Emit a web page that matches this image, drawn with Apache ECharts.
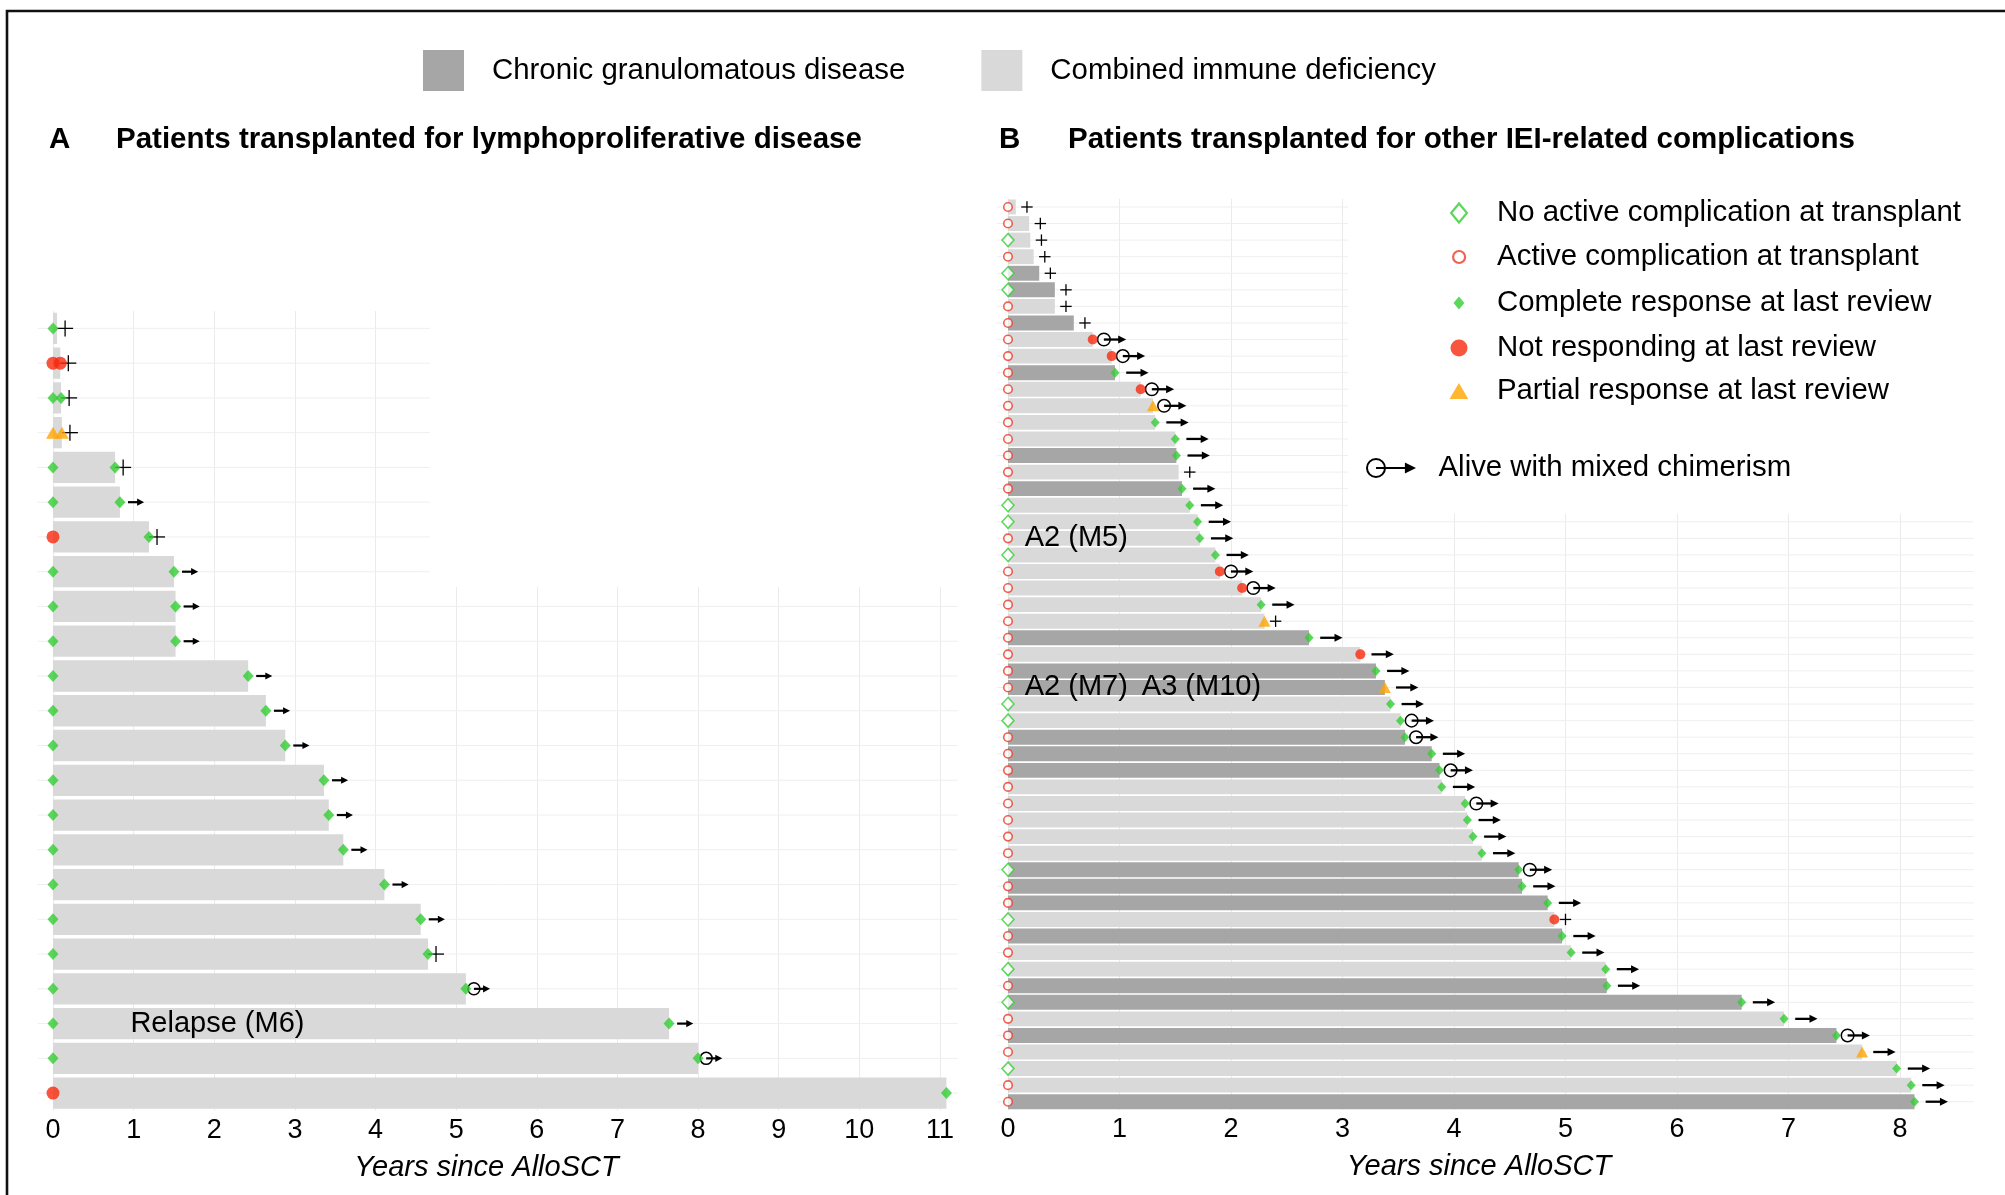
<!DOCTYPE html>
<html>
<head>
<meta charset="utf-8">
<script src="https://cdn.jsdelivr.net/npm/echarts@6/dist/echarts.min.js"></script>
<style>
  html, body { margin: 0; padding: 0; background: #fff; }
  #chart { width: 2005px; height: 1195px; }
</style>
</head>
<body>
<div id="chart"></div>
<script>
const FONT = 'Liberation Sans';
const GREEN = '#32cd32', RED = '#f8290d', RED_OPEN = '#ee3a26', ORANGE = '#ffa500';
const DARK = '#a6a6a6', LIGHT = '#d9d9d9';

// ---- panel A: lymphoproliferative disease (top row first) ----
const aLen = [0.05, 0.09, 0.10, 0.11, 0.77, 0.83, 1.19, 1.50, 1.52, 1.52, 2.42, 2.64,
  2.88, 3.36, 3.42, 3.60, 4.11, 4.56, 4.65, 5.12, 7.64, 8.00, 11.08];
const aStart = ['CR', 'NR', 'CR', 'PR', 'CR', 'CR', 'NR', 'CR', 'CR', 'CR', 'CR', 'CR',
  'CR', 'CR', 'CR', 'CR', 'CR', 'CR', 'CR', 'CR', 'CR', 'CR', 'NR'];
const aEnd = [null, 'NR', 'CR', 'PR', 'CR', 'CR', 'CR', 'CR', 'CR', 'CR', 'CR', 'CR',
  'CR', 'CR', 'CR', 'CR', 'CR', 'CR', 'CR', 'CR', 'CR', 'CR', 'CR'];
const aStatus = ['dead', 'dead', 'dead', 'dead', 'dead', 'alive', 'dead', 'alive', 'alive', 'alive', 'alive', 'alive',
  'alive', 'alive', 'alive', 'alive', 'alive', 'alive', 'dead', 'chim', 'alive', 'chim', null];
const aNoteText = ['Relapse (M6)'];
const aNoteX = [0.96];
const aNoteRow = [20];

// ---- panel B: other IEI-related complications ----
const bLen = [0.07, 0.19, 0.20, 0.23, 0.28, 0.42, 0.42, 0.59, 0.76, 0.93,
  0.96, 1.19, 1.30, 1.32, 1.50, 1.51, 1.53, 1.56, 1.63, 1.70,
  1.72, 1.86, 1.90, 2.10, 2.27, 2.30, 2.70, 3.16, 3.30, 3.38,
  3.43, 3.52, 3.56, 3.80, 3.87, 3.89, 4.10, 4.12, 4.17, 4.25,
  4.58, 4.61, 4.84, 4.90, 4.97, 5.05, 5.36, 5.37, 6.58, 6.96,
  7.43, 7.66, 7.97, 8.10, 8.13];
const bDisease = ['CID', 'CID', 'CID', 'CID', 'CGD', 'CGD', 'CID', 'CGD', 'CID', 'CID',
  'CGD', 'CID', 'CID', 'CID', 'CID', 'CGD', 'CID', 'CGD', 'CID', 'CID',
  'CID', 'CID', 'CID', 'CID', 'CID', 'CID', 'CGD', 'CID', 'CGD', 'CGD',
  'CID', 'CID', 'CGD', 'CGD', 'CGD', 'CID', 'CID', 'CID', 'CID', 'CID',
  'CGD', 'CGD', 'CGD', 'CID', 'CGD', 'CID', 'CID', 'CGD', 'CGD', 'CID',
  'CGD', 'CID', 'CID', 'CID', 'CGD'];
const bStart = ['A', 'A', 'N', 'A', 'N', 'N', 'A', 'A', 'A', 'A',
  'A', 'A', 'A', 'A', 'A', 'A', 'A', 'A', 'N', 'N',
  'A', 'N', 'A', 'A', 'A', 'A', 'A', 'A', 'A', 'A',
  'N', 'N', 'A', 'A', 'A', 'A', 'A', 'A', 'A', 'A',
  'N', 'A', 'A', 'N', 'A', 'A', 'N', 'A', 'N', 'A',
  'A', 'A', 'N', 'A', 'A'];
const bEnd = [null, null, null, null, null, null, null, null, 'NR', 'NR',
  'CR', 'NR', 'PR', 'CR', 'CR', 'CR', null, 'CR', 'CR', 'CR',
  'CR', 'CR', 'NR', 'NR', 'CR', 'PR', 'CR', 'NR', 'CR', 'PR',
  'CR', 'CR', 'CR', 'CR', 'CR', 'CR', 'CR', 'CR', 'CR', 'CR',
  'CR', 'CR', 'CR', 'NR', 'CR', 'CR', 'CR', 'CR', 'CR', 'CR',
  'CR', 'PR', 'CR', 'CR', 'CR'];
const bStatus = ['dead', 'dead', 'dead', 'dead', 'dead', 'dead', 'dead', 'dead', 'chim', 'chim',
  'alive', 'chim', 'chim', 'alive', 'alive', 'alive', 'dead', 'alive', 'alive', 'alive',
  'alive', 'alive', 'chim', 'chim', 'alive', 'dead', 'alive', 'alive', 'alive', 'alive',
  'alive', 'chim', 'chim', 'alive', 'chim', 'alive', 'chim', 'alive', 'alive', 'alive',
  'chim', 'alive', 'alive', 'dead', 'alive', 'alive', 'alive', 'alive', 'alive', 'alive',
  'chim', 'alive', 'alive', 'alive', 'alive'];
const bNoteText = ['A2 (M5)', 'A2 (M7)', 'A3 (M10)'];
const bNoteX = [0.15, 0.15, 1.2];
const bNoteRow = [20, 29, 29];

const aRows = aLen.map((_, i) => String(i + 1));
const bRows = bLen.map((_, i) => String(i + 1));

const NAME_CGD = 'Chronic granulomatous disease';
const NAME_CID = 'Combined immune deficiency';
const NAME_NOACT = 'No active complication at transplant';
const NAME_ACT = 'Active complication at transplant';
const NAME_CR = 'Complete response at last review';
const NAME_NR = 'Not responding at last review';
const NAME_PR = 'Partial response at last review';
const NAME_CHIM = 'Alive with mixed chimerism';

// rows whose code matches, placed at 0 or at the bar end
function pick(len, codes, code, atEnd) {
  const out = [];
  codes.forEach((c, i) => { if (c === code) out.push([atEnd ? len[i] : 0, i]); });
  return out;
}

function barRenderer(color) {
  return function (params, api) {
    const row = api.value(1);
    const s = api.coord([0, row]);
    const e = api.coord([api.value(0), row]);
    const h = api.size([0, 1])[1] * 0.9;
    return { type: 'rect', shape: { x: s[0], y: s[1] - h / 2, width: e[0] - s[0], height: h }, style: { fill: color } };
  };
}

function rowLineRenderer(lo, hi) {
  return function (params, api) {
    const row = api.value(1);
    const a = api.coord([lo, row]), b = api.coord([hi, row]);
    return { type: 'line', shape: { x1: a[0], y1: a[1], x2: b[0], y2: b[1] }, style: { stroke: '#efefef', lineWidth: 1 } };
  };
}

function statusRenderer(kind, sz) {
  return function (params, api) {
    const row = api.value(1), end = api.value(0);
    const p0 = api.coord([end + 0.1, row]);
    if (kind === 'dead') {
      return { type: 'group', children: [
        { type: 'line', shape: { x1: p0[0] - sz.plus, y1: p0[1], x2: p0[0] + sz.plus, y2: p0[1] }, style: { stroke: '#000', lineWidth: sz.plusW } },
        { type: 'line', shape: { x1: p0[0], y1: p0[1] - sz.plus, x2: p0[0], y2: p0[1] + sz.plus }, style: { stroke: '#000', lineWidth: sz.plusW } }
      ] };
    }
    const p1 = api.coord([end + 0.3, row]);
    const kids = [
      { type: 'line', shape: { x1: p0[0], y1: p0[1], x2: p1[0] - sz.head + 1, y2: p1[1] }, style: { stroke: '#000', lineWidth: sz.lw } },
      { type: 'polygon', shape: { points: [[p1[0], p1[1]], [p1[0] - sz.head, p1[1] - sz.half], [p1[0] - sz.head, p1[1] + sz.half]] }, style: { fill: '#000' } }
    ];
    if (kind === 'chim') {
      kids.push({ type: 'circle', shape: { cx: p0[0], cy: p0[1], r: sz.r }, style: { fill: 'none', stroke: '#000', lineWidth: 1.5 } });
    }
    return { type: 'group', children: kids };
  };
}

function noteRenderer(texts) {
  return function (params, api) {
    const p = api.coord([api.value(0), api.value(1)]);
    return { type: 'text', x: p[0], y: p[1], style: { text: texts[params.dataIndex], fontSize: 29, fontFamily: FONT, fill: '#000', align: 'left', verticalAlign: 'middle' } };
  };
}

function custom(name, axis, data, renderItem, z, color) {
  const s = { type: 'custom', name, xAxisIndex: axis, yAxisIndex: axis, data, renderItem,
    encode: { x: 0, y: 1 }, clip: false, silent: true, z };
  if (color) s.itemStyle = { color };
  return s;
}

function scatter(name, axis, data, symbol, size, style) {
  return { type: 'scatter', name, xAxisIndex: axis, yAxisIndex: axis, data, symbol, symbolSize: size,
    itemStyle: style, clip: false, silent: true, z: 3 };
}

const szA = { plus: 8, plusW: 1.3, lw: 2.2, head: 7, half: 3.6, r: 6 };
const szB = { plus: 5.7, plusW: 1.3, lw: 2.3, head: 8, half: 4, r: 6.3 };

const series = [];
// panel A
series.push(custom('rowsA', 0, aLen.map((_, i) => [0, i]), rowLineRenderer(-0.19, 11.22), 1));
series.push(custom(NAME_CID, 0, aLen.map((v, i) => [v, i]), barRenderer(LIGHT), 2, LIGHT));
series.push(scatter(NAME_CR, 0, pick(aLen, aStart, 'CR', false).concat(pick(aLen, aEnd, 'CR', true)), 'diamond', [11, 12], { color: GREEN }));
series.push(scatter(NAME_NR, 0, pick(aLen, aStart, 'NR', false).concat(pick(aLen, aEnd, 'NR', true)), 'circle', 13, { color: RED }));
series.push(scatter(NAME_PR, 0, pick(aLen, aStart, 'PR', false).concat(pick(aLen, aEnd, 'PR', true)), 'triangle', [14, 12], { color: ORANGE }));
series.push(custom('deadA', 0, pick(aLen, aStatus, 'dead', true), statusRenderer('dead', szA), 3));
series.push(custom('aliveA', 0, pick(aLen, aStatus, 'alive', true), statusRenderer('alive', szA), 3));
series.push(custom(NAME_CHIM, 0, pick(aLen, aStatus, 'chim', true), statusRenderer('chim', szA), 3, '#000'));
series.push(custom('notesA', 0, aNoteX.map((x, i) => [x, aNoteRow[i]]), noteRenderer(aNoteText), 4));
// panel B
series.push(custom('rowsB', 1, bLen.map((_, i) => [0, i]), rowLineRenderer(-0.1, 8.66), 1));
series.push(custom(NAME_CGD, 1, bLen.map((v, i) => [v, i]).filter((d, i) => bDisease[i] === 'CGD'), barRenderer(DARK), 2, DARK));
series.push(custom(NAME_CID, 1, bLen.map((v, i) => [v, i]).filter((d, i) => bDisease[i] === 'CID'), barRenderer(LIGHT), 2, LIGHT));
series.push(scatter(NAME_NOACT, 1, pick(bLen, bStart, 'N', false), 'diamond', [12, 13], { color: '#fff', borderColor: GREEN, borderWidth: 1.5 }));
series.push(scatter(NAME_ACT, 1, pick(bLen, bStart, 'A', false), 'circle', 8.5, { color: '#fff', borderColor: RED_OPEN, borderWidth: 1.6 }));
series.push(scatter(NAME_CR, 1, pick(bLen, bEnd, 'CR', true), 'diamond', [9, 10], { color: GREEN }));
series.push(scatter(NAME_NR, 1, pick(bLen, bEnd, 'NR', true), 'circle', 10, { color: RED }));
series.push(scatter(NAME_PR, 1, pick(bLen, bEnd, 'PR', true), 'triangle', [12, 11], { color: ORANGE }));
series.push(custom('deadB', 1, pick(bLen, bStatus, 'dead', true), statusRenderer('dead', szB), 3));
series.push(custom('aliveB', 1, pick(bLen, bStatus, 'alive', true), statusRenderer('alive', szB), 3));
series.push(custom(NAME_CHIM, 1, pick(bLen, bStatus, 'chim', true), statusRenderer('chim', szB), 3, '#000'));
series.push(custom('notesB', 1, bNoteX.map((x, i) => [x, bNoteRow[i]]), noteRenderer(bNoteText), 4));

function xAxis(gridIndex, max, namePad) {
  return {
    type: 'value', gridIndex, min: 0, max, interval: 1,
    axisLine: { show: false }, axisTick: { show: false },
    splitLine: { show: true, lineStyle: { color: '#ebebeb', width: 1 } },
    axisLabel: { fontSize: 27, color: '#000', margin: 5, lineHeight: 30 },
    name: 'Years since AlloSCT', nameLocation: 'middle', nameGap: 40,
    nameTextStyle: { fontSize: 29, fontStyle: 'italic', color: '#000', lineHeight: 34, padding: namePad }
  };
}
function yAxis(gridIndex, rows) {
  return {
    type: 'category', gridIndex, data: rows, inverse: true,
    axisLine: { show: false }, axisTick: { show: false }, axisLabel: { show: false }, splitLine: { show: false }
  };
}

const SQUARE = 'path://M0,0L10,0L10,10L0,10Z';
const DIAMOND = 'path://M5,0L10,6L5,12L0,6Z';
const CIRCLE = 'path://M0,5A5,5 0 1 1 10,5A5,5 0 1 1 0,5Z';
const TRIANGLE = 'path://M5,0L10,8.5L0,8.5Z';
const CHIM = 'path://M0,10A9,9 0 1 1 18,10A9,9 0 1 1 0,10Z M1.8,10A7.2,7.2 0 1 0 16.2,10A7.2,7.2 0 1 0 1.8,10Z M9,9L37,9L37,11L9,11Z M35,5L45,10L35,15Z';

const legendText = { fontSize: 29.4, color: '#000', lineHeight: 30 };
// the legend box is aligned on the drawn icon, so left is the icon's visible left edge
function legendItem(name, icon, style, iconW, top, w, h) {
  return {
    data: [{ name, icon, itemStyle: style }], left: 1459 - iconW / 2, top, itemWidth: w, itemHeight: h,
    padding: 0, symbolKeepAspect: true, selectedMode: false, textStyle: legendText
  };
}

const titleStyle = { fontSize: 29.5, fontWeight: 'bold', color: '#000', lineHeight: 34 };

const option = {
  animation: false,
  backgroundColor: '#fff',
  textStyle: { fontFamily: FONT },
  title: [
    { text: 'A', left: 49, top: 123, padding: 0, textStyle: titleStyle },
    { text: 'Patients transplanted for lymphoproliferative disease', left: 116, top: 123, padding: 0, textStyle: titleStyle },
    { text: 'B', left: 999, top: 123, padding: 0, textStyle: titleStyle },
    { text: 'Patients transplanted for other IEI-related complications', left: 1068, top: 123, padding: 0, textStyle: titleStyle }
  ],
  legend: [
    {
      data: [
        { name: NAME_CGD, icon: SQUARE, itemStyle: { color: DARK } },
        { name: NAME_CID, icon: SQUARE, itemStyle: { color: LIGHT } }
      ],
      left: 423, top: 50, itemWidth: 87, itemHeight: 41, itemGap: 76, padding: 0,
      symbolKeepAspect: true, selectedMode: false, textStyle: legendText
    },
    legendItem(NAME_NOACT, DIAMOND, { color: '#fff', borderColor: GREEN, borderWidth: 2.2 }, 18, 198, 66, 19),
    legendItem(NAME_ACT, CIRCLE, { color: '#fff', borderColor: RED_OPEN, borderWidth: 2.2 }, 14, 242, 66, 12),
    legendItem(NAME_CR, DIAMOND, { color: GREEN }, 11, 288, 66, 13),
    legendItem(NAME_NR, CIRCLE, { color: RED }, 17, 333, 66, 17),
    legendItem(NAME_PR, TRIANGLE, { color: ORANGE }, 19, 376, 66, 16),
    {
      data: [{ name: NAME_CHIM, icon: CHIM, itemStyle: { color: '#000' } }], left: 1366, top: 453,
      itemWidth: 85, itemHeight: 20, padding: 0, symbolKeepAspect: true, selectedMode: false, textStyle: legendText
    }
  ],
  grid: [
    { left: 53, right: 1065, top: 311, bottom: 84.5 },
    { left: 1008, right: 105, top: 198.7, bottom: 85 }
  ],
  xAxis: [xAxis(0, 11, [0, 20, 0, 0]), xAxis(1, 8, [0, 0, 0, 50])],
  yAxis: [yAxis(0, aRows), yAxis(1, bRows)],
  graphic: [
    { type: 'polyline', shape: { points: [[7, 1195], [7, 11], [2005, 11]] }, style: { stroke: '#111', lineWidth: 2.6, fill: 'none' }, z: 10 },
    { type: 'rect', shape: { x: 430, y: 295, width: 560, height: 292 }, style: { fill: '#fff' }, z: 1.5, silent: true },
    { type: 'rect', shape: { x: 1348, y: 190, width: 640, height: 324 }, style: { fill: '#fff' }, z: 1.5, silent: true }
  ],
  series
};

const chart = echarts.init(document.getElementById('chart'));
chart.setOption(option);
</script>
</body>
</html>
